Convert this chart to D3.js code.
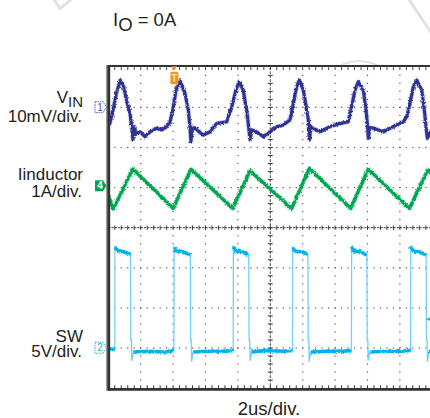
<!DOCTYPE html>
<html>
<head>
<meta charset="utf-8">
<script src="https://cdn.jsdelivr.net/npm/d3@7"></script>
<style>
  html, body { margin: 0; padding: 0; background: #fff; }
  svg { display: block; font-family: "Liberation Sans", Arial, Helvetica, sans-serif; }
</style>
</head>
<body>
<svg id="chart" width="430" height="418"></svg>
<script>
// Time in microseconds (2 us/div, 10 divisions on screen)

// CH1: input voltage ripple, AC coupled, mV
const vinRipple = [
  [0.00, -4.4], [0.10, -4.0], [0.30, -0.5], [0.50, 3.5], [0.72, 6.7], [0.92, 5.6],
  [1.13, 1.7], [1.34, -1.4], [1.44, -4.8], [1.52, -8.1], [1.62, -4.8], [1.70, -6.5],
  [1.96, -6.1], [2.27, -7.3], [2.57, -6.1], [2.99, -5.2], [3.30, -5.6], [3.60, -4.8],
  [3.81, -3.6], [3.98, -0.7], [4.18, 4.3], [4.43, 6.6], [4.73, 3.6], [4.94, -0.7],
  [5.04, -4.8], [5.10, -8.6], [5.20, -5.0], [5.35, -5.2], [5.86, -6.9], [6.28, -6.1],
  [6.69, -4.0], [7.31, -3.6], [7.62, 0.2], [7.88, 4.3], [8.07, 6.4], [8.33, 4.3],
  [8.54, -0.7], [8.64, -4.0], [8.75, -8.1], [8.85, -5.6], [9.16, -6.1], [9.57, -7.3],
  [9.98, -6.1], [10.40, -4.8], [10.80, -4.4], [11.22, -3.1], [11.42, 1.0], [11.63, 5.2],
  [11.79, 6.8], [12.04, 4.3], [12.25, -0.7], [12.35, -3.1], [12.41, -8.1], [12.50, -5.0],
  [12.65, -5.2], [13.07, -6.1], [13.69, -4.8], [14.30, -4.0], [14.81, -3.6], [15.02, 0.2],
  [15.23, 4.3], [15.43, 6.4], [15.74, 4.3], [15.91, -0.7], [15.99, -4.0], [16.05, -7.7],
  [16.15, -5.0], [16.36, -5.2], [16.98, -6.1], [17.59, -4.8], [18.21, -3.6], [18.42, -2.3],
  [18.62, 1.0], [18.83, 5.2], [19.04, 6.8], [19.35, 4.3], [19.51, -0.7], [19.61, -4.8],
  [19.69, -7.7], [19.86, -6.4], [20.00, -5.5]
];

// CH4: inductor current, A
const inductorCurrent = [
  [0.01, -0.21], [0.31, -0.53], [1.51, 0.46], [4.01, -0.52], [5.10, 0.46],
  [7.68, -0.52], [8.75, 0.42], [11.32, -0.52], [12.41, 0.48], [14.96, -0.52],
  [16.05, 0.46], [18.58, -0.52], [19.72, 0.44], [20.00, 0.33]
];

// CH2: switch node voltage, V
const switchNode = [
  [0.00, -0.1], [0.40, -0.2], [0.41, 12.6], [0.55, 12.2], [0.95, 12.0], [1.37, 11.7],
  [1.39, 1.0], [1.43, 1.0], [1.45, -1.6], [1.55, -0.5], [2.50, -0.4], [3.50, -0.5], [4.05, -0.3],
  [4.06, 12.5], [4.20, 12.1], [4.60, 12.0], [5.06, 11.6],
  [5.08, 1.0], [5.12, 1.0], [5.14, -1.7], [5.24, -0.5], [6.20, -0.4], [7.20, -0.4], [7.71, -0.3],
  [7.72, 12.6], [7.86, 12.1], [8.25, 12.0], [8.67, 11.6],
  [8.69, 1.0], [8.73, 1.0], [8.75, -1.6], [8.85, -0.5], [9.80, -0.3], [10.80, -0.4], [11.37, -0.3],
  [11.38, 12.5], [11.52, 12.1], [11.90, 12.0], [12.32, 11.7],
  [12.34, 1.0], [12.38, 1.0], [12.40, -1.7], [12.50, -0.5], [13.50, -0.4], [14.50, -0.4], [15.01, -0.3],
  [15.02, 12.6], [15.16, 12.1], [15.55, 12.0], [15.96, 11.6],
  [15.98, 1.0], [16.02, 1.0], [16.04, -1.6], [16.14, -0.5], [17.10, -0.4], [18.10, -0.4], [18.66, -0.3],
  [18.67, 12.7], [18.81, 12.1], [19.20, 12.0], [19.62, 11.6],
  [19.64, 1.0], [19.68, 1.0], [19.70, -1.7], [19.80, -0.4], [20.00, -0.4]
];

const triggerTime = 4.08;          // us
const triggerLevelSW = 3.6;        // V, CH2 trigger level

const titleText = ["I", "O", " = 0A"];
const timebaseLabel = "2us/div.";

// Channel settings: vertical position (div from centre) and units per division
const channels = [
  { key: "1", data: vinRipple,       offset: 3,  perDiv: 10, color: "#2e3192", width: 3.0, label: ["V", "IN"],  unit: "10mV/div.", labelY: 102.5, unitY: 121.5, markerStyle: "outline", markerColor: "#4a52a8" },
  { key: "4", data: inductorCurrent, offset: 1,  perDiv: 1,  color: "#00a651", width: 3.2, label: ["Iinductor"], unit: "1A/div.",   labelY: 180,   unitY: 196.5, markerStyle: "filled",  markerColor: "#00a651" },
  { key: "2", data: switchNode,      offset: -3, perDiv: 5,  color: "#00b3ee", width: 3.6, label: ["SW"],        unit: "5V/div.",   labelY: 341.5, unitY: 357,   markerStyle: "outline", markerColor: "#27b0c4" }
];

const svg = d3.select("#chart");

// Acquisition noise texture on the traces
const defs = svg.append("defs");
const noise = defs.append("filter").attr("id", "noisy").attr("filterUnits", "userSpaceOnUse")
  .attr("x", 0).attr("y", 0).attr("width", 430).attr("height", 418);
noise.append("feTurbulence").attr("type", "fractalNoise").attr("baseFrequency", "0.7 0.45")
  .attr("numOctaves", 2).attr("seed", 4).attr("result", "grain");
noise.append("feDisplacementMap").attr("in", "SourceGraphic").attr("in2", "grain")
  .attr("scale", 3.2).attr("xChannelSelector", "R").attr("yChannelSelector", "G");

// Screen area: 10 x 8 divisions
const x = d3.scaleLinear().domain([0, 20]).range([108.3, 432.3]);
const yDiv = d3.scaleLinear().domain([-4, 4]).range([388.1, 67.3]);
const [x0, x1] = x.range();
const [yB, yT] = yDiv.range();

// Faint background watermark
const wm = svg.append("g").attr("fill", "none").attr("stroke", "#e2e2e2").attr("stroke-width", 3);
wm.append("path").attr("d", "M53,-2 L60,8.5 L73,-2");
wm.append("path").attr("d", "M408,-2 L432,34");
wm.append("circle").attr("cx", 359).attr("cy", 100).attr("r", 39).attr("stroke-width", 2.2);

// Screen background
svg.append("rect").attr("x", x0).attr("y", yT - 1).attr("width", x1 - x0).attr("height", yB - yT + 2).attr("fill", "#fff");

const grid = svg.append("g");
const dotColor = "#5a5a5a";

// Dotted graticule: vertical lines
d3.range(1, 10).filter(k => k !== 5).forEach(k => {
  const gx = x(k * 2);
  d3.range(1, 40).forEach(m => {
    const gy = yDiv(-4 + m / 5);
    grid.append("rect").attr("x", gx - 0.6).attr("y", gy - 0.6).attr("width", 1.2).attr("height", 1.2).attr("fill", dotColor);
  });
});
// Dotted graticule: horizontal lines
d3.range(-3, 4).filter(k => k !== 0).forEach(k => {
  const gy = yDiv(k);
  d3.range(1, 50).forEach(m => {
    const gx = x(m * 0.4);
    grid.append("rect").attr("x", gx - 0.6).attr("y", gy - 0.6).attr("width", 1.2).attr("height", 1.2).attr("fill", dotColor);
  });
});

// Centre axes with minor ticks
const axisColor = "#3a3a3a";
const cy = yDiv(0), cx = x(10);
grid.append("line").attr("x1", x0).attr("x2", x1).attr("y1", cy).attr("y2", cy)
  .attr("stroke", axisColor).attr("stroke-width", 1).attr("stroke-dasharray", "2.2,1.04");
grid.append("line").attr("x1", cx).attr("x2", cx).attr("y1", yT).attr("y2", yB)
  .attr("stroke", axisColor).attr("stroke-width", 1).attr("stroke-dasharray", "2.5,1.5");
d3.range(1, 50).forEach(m => {
  const gx = x(m * 0.4);
  grid.append("line").attr("x1", gx).attr("x2", gx).attr("y1", cy - 2.2).attr("y2", cy + 2.2).attr("stroke", axisColor).attr("stroke-width", 1);
});
d3.range(1, 40).forEach(m => {
  const gy = yDiv(-4 + m / 5);
  grid.append("line").attr("x1", cx - 2.5).attr("x2", cx + 2.5).attr("y1", gy).attr("y2", gy).attr("stroke", axisColor).attr("stroke-width", 1);
});

// Traces
svg.append("clipPath").attr("id", "screen").append("rect")
  .attr("x", x0).attr("y", yT).attr("width", x1 - x0).attr("height", yB - yT);
const traces = svg.append("g").attr("clip-path", "url(#screen)");

const yOf = ch => v => yDiv(ch.offset + v / ch.perDiv);

channels.forEach(ch => {
  const line = d3.line().x(d => x(d[0])).y(d => yOf(ch)(d[1]));
  if (ch.key === "2") {
    // Fast edges render faint and thin; flat portions carry the dense trace
    traces.append("path").attr("d", line(ch.data)).attr("fill", "none")
      .attr("stroke", "#6fd2f4").attr("stroke-width", 1.3);
    const runs = [];
    let cur = [ch.data[0]];
    for (let i = 1; i < ch.data.length; i++) {
      if (Math.abs(ch.data[i][1] - ch.data[i - 1][1]) < 0.8) cur.push(ch.data[i]);
      else { runs.push(cur); cur = [ch.data[i]]; }
    }
    runs.push(cur);
    runs.filter(r => r.length > 1 && r[r.length - 1][0] - r[0][0] > 0.1).forEach(r => {
      traces.append("path").attr("d", line(r)).attr("fill", "none")
        .attr("stroke", ch.color).attr("stroke-width", ch.width).attr("stroke-linejoin", "round")
        .attr("filter", "url(#noisy)");
    });
  } else {
    traces.append("path").attr("d", line(ch.data)).attr("fill", "none")
      .attr("stroke", ch.color).attr("stroke-opacity", 0.35).attr("stroke-width", ch.width + 1.4).attr("stroke-linejoin", "round")
      .attr("filter", "url(#noisy)");
    traces.append("path").attr("d", line(ch.data)).attr("fill", "none")
      .attr("stroke", ch.color).attr("stroke-width", ch.width).attr("stroke-linejoin", "round")
      .attr("filter", "url(#noisy)");
  }
});

// Frame with minor ticks
const frame = svg.append("g").attr("stroke", "#333");
frame.append("line").attr("x1", x0).attr("x2", 432).attr("y1", yT - 1.3).attr("y2", yT - 1.3).attr("stroke-width", 2.2);
frame.append("line").attr("x1", x0).attr("x2", 432).attr("y1", yB + 1.2).attr("y2", yB + 1.2).attr("stroke-width", 2.8);
frame.append("line").attr("x1", x0 + 0.4).attr("x2", x0 + 0.4).attr("y1", yT - 2.4).attr("y2", yB + 2.6).attr("stroke-width", 3);
frame.append("line").attr("x1", x0 - 1.8).attr("x2", x0 - 1.8).attr("y1", yT - 2.4).attr("y2", yB + 2.6).attr("stroke", "#9a9a9a").attr("stroke-width", 1);
d3.range(1, 50).forEach(m => {
  const gx = x(m * 0.4);
  frame.append("line").attr("x1", gx).attr("x2", gx).attr("y1", yT).attr("y2", yT + 2.6).attr("stroke-width", 1);
  frame.append("line").attr("x1", gx).attr("x2", gx).attr("y1", yB).attr("y2", yB - 2.8).attr("stroke-width", 1);
});

// Channel reference markers on the left edge
const markerPath = (xl, yc) => `M${xl},${yc - 5.5} H${xl + 8} L${xl + 11.5},${yc} L${xl + 8},${yc + 5.5} H${xl} Z`;
channels.forEach(ch => {
  const yc = yOf(ch)(0) - (ch.key === "4" ? 1.8 : 0.2);
  const g = svg.append("g");
  if (ch.markerStyle === "filled") {
    g.append("path").attr("d", markerPath(95, yc)).attr("fill", ch.markerColor);
    g.append("text").attr("x", 100).attr("y", yc + 3.6).attr("text-anchor", "middle")
      .attr("font-size", 10).attr("font-weight", "bold").attr("fill", "#fff").text(ch.key);
  } else {
    g.append("path").attr("d", markerPath(95, yc)).attr("fill", "#fff")
      .attr("stroke", ch.markerColor).attr("stroke-width", 0.9).attr("stroke-dasharray", "1.6,0.8");
    g.append("text").attr("x", 100).attr("y", yc + 3.6).attr("text-anchor", "middle")
      .attr("font-size", 10).attr("fill", ch.markerColor).text(ch.key);
  }
});

// Trigger position marker
const tx = x(triggerTime);
svg.append("path").attr("d", `M${tx - 2.6},${yT - 1} L${tx + 2.6},${yT - 1} L${tx},${yT + 3} Z`).attr("fill", "#f7941d");
svg.append("rect").attr("x", tx - 4).attr("y", yT + 4.5).attr("width", 8).attr("height", 12.5).attr("rx", 1.5).attr("fill", "#f7941d");
svg.append("text").attr("x", tx).attr("y", yT + 14.5).attr("text-anchor", "middle")
  .attr("font-size", 10).attr("fill", "#fff").text("T");

// Trigger level marker for CH2 at the right edge
const ty = yOf(channels[2])(triggerLevelSW);
svg.append("path").attr("d", `M${x(19.73)},${ty} l3,-3 l3,3 l-3,3 Z`).attr("fill", "#1ba3b3");
svg.append("line").attr("x1", x(19.73) - 2).attr("x2", x(19.73) + 8).attr("y1", ty).attr("y2", ty).attr("stroke", "#1ba3b3").attr("stroke-width", 1);

// Text
const textColor = "#231f20";
const title = svg.append("text").attr("x", 113).attr("y", 26).attr("font-size", 18.5).attr("fill", textColor);
title.append("tspan").text(titleText[0]);
title.append("tspan").attr("dy", 4.6).text(titleText[1]);
title.append("tspan").attr("dy", -4.6).text(titleText[2]);

channels.forEach(ch => {
  const t = svg.append("text").attr("x", 83).attr("y", ch.labelY).attr("text-anchor", "end")
    .attr("font-size", 17).attr("fill", textColor);
  t.append("tspan").text(ch.label[0]);
  if (ch.label[1]) t.append("tspan").attr("font-size", 15).attr("dy", 4.2).text(ch.label[1]);
  svg.append("text").attr("x", 82).attr("y", ch.unitY).attr("text-anchor", "end")
    .attr("font-size", 17).attr("fill", textColor).text(ch.unit);
});

svg.append("text").attr("x", 269).attr("y", 414.5).attr("text-anchor", "middle")
  .attr("font-size", 18.5).attr("fill", textColor).text(timebaseLabel);
</script>
</body>
</html>
